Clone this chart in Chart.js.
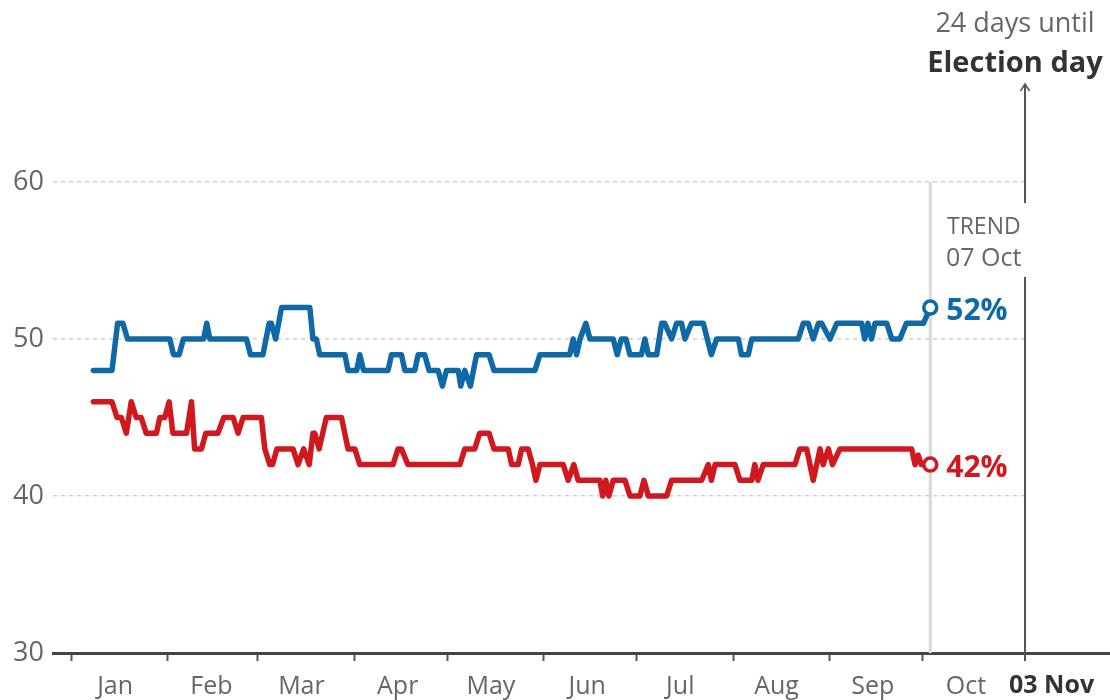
<!DOCTYPE html>
<html>
<head>
<meta charset="utf-8">
<title>Poll tracker</title>
<script src="https://cdn.jsdelivr.net/npm/chart.js@4/dist/chart.umd.min.js"></script>
<style>
    body { margin: 0; background: #fff; }
    canvas { display: block; }
</style>
</head>
<body>
<canvas id="pollChart" width="1110" height="700"></canvas>
<script>
// Day numbers count from 1 Jan (day 0). Each pair is [day, poll %]
const blueTrend = [
    [7, 48], [13, 48], [14.8, 51], [16.5, 51], [18, 50], [31.6, 50], [32.8, 49], [34.6, 49],
    [36, 50], [42.5, 50], [43.5, 51], [44.5, 50], [56.3, 50], [57.6, 49], [61.6, 49], [63.6, 51],
    [64.3, 51], [65.7, 50], [67.6, 52], [76.7, 52], [77.7, 50], [78.8, 50], [79.9, 49], [88, 49],
    [89, 48], [91.8, 48], [92.8, 49], [94, 48], [101.9, 48], [103, 49], [106.2, 49], [107.3, 48],
    [110.5, 48], [111.6, 49], [113.7, 49], [115.1, 48], [118, 48], [119.4, 47], [120.7, 48], [124.5, 48],
    [125.3, 47], [126.6, 48], [128.4, 47], [130.4, 49], [134.4, 49], [136, 48], [149.2, 48], [150.8, 49],
    [160.4, 49], [161.5, 50], [162.6, 49], [163.7, 50], [165.6, 51], [166.9, 50], [174.4, 50], [175.7, 49],
    [177, 50], [178.5, 50], [179.8, 49], [183.5, 49], [184.6, 50], [185.7, 49], [188.4, 49], [190, 51],
    [191, 51], [193.2, 50], [194.8, 51], [196.4, 51], [197.5, 50], [199.6, 51], [203.4, 51], [206, 49],
    [207.7, 50], [214.7, 50], [215.7, 49], [217.9, 49], [219, 50], [234, 50], [235.6, 51], [237.2, 51],
    [238.8, 50], [240.5, 51], [241.5, 51], [244.2, 50], [246.4, 51], [254.4, 51], [255.4, 50], [256.4, 51],
    [257.6, 50], [258.7, 51], [262.5, 51], [264.1, 50], [266.7, 50], [268.8, 51], [274.3, 51], [276.5, 52]
];

const redTrend = [
    [7, 46], [13, 46], [14.6, 45], [16, 45], [17.6, 44], [19.2, 46], [20.8, 45], [22.4, 45],
    [24, 44], [27.3, 44], [28.4, 45], [30, 45], [31.4, 46], [32.6, 44], [37, 44], [38.6, 46],
    [39.6, 43], [41.8, 43], [43.2, 44], [47.1, 44], [49, 45], [52, 45], [53.6, 44], [55.2, 45],
    [61.1, 45], [62.2, 43], [63.8, 42], [64.7, 42], [66.1, 43], [71.3, 43], [72.9, 42], [74.7, 43],
    [76.5, 42], [77.7, 44], [78.3, 44], [79.7, 43], [82, 45], [86.9, 45], [89, 43], [91.2, 43],
    [92.8, 42], [103.5, 42], [105.1, 43], [106.2, 43], [108.3, 42], [125, 42], [126.6, 43], [129.8, 43],
    [131.4, 44], [134.4, 44], [136, 43], [140.6, 43], [141.7, 42], [143.8, 42], [144.9, 43], [147, 43],
    [148.4, 42], [149.5, 41], [150.8, 42], [158.3, 42], [159.9, 41], [161.7, 42], [163.1, 41], [170.1, 41],
    [171, 40], [172, 41], [173, 40], [174.4, 41], [178.2, 41], [179.8, 40], [183, 40], [184.3, 41],
    [185.7, 40], [191.6, 40], [193.2, 41], [202.9, 41], [205, 42], [206, 41], [207.2, 42], [213.6, 42],
    [215.2, 41], [219, 41], [220, 42], [221, 41], [222.7, 42], [232.9, 42], [234.5, 43], [236.7, 43],
    [238.8, 41], [241, 43], [242, 42], [243.7, 43], [245, 42], [247.4, 43], [270.5, 43], [271.6, 42],
    [272.6, 42.6], [273.6, 42], [276.5, 42]
];

const monthNames = ['Jan', 'Feb', 'Mar', 'Apr', 'May', 'Jun', 'Jul', 'Aug', 'Sep', 'Oct'];
const monthStarts = [0, 31, 60, 91, 121, 152, 182, 213, 244, 274];
const monthMids = [14, 45, 74, 105, 135, 166, 196, 227, 258, 288];
const yTicks = [30, 40, 50, 60];

const electionDay = 307;      // 03 Nov
const electionLabel = '03 Nov';
const trendLabel = ['TREND', '07 Oct'];
const countdownLabel = ['24 days until', 'Election day'];

const BLUE = '#0f69a6';
const RED = '#d0191f';
const GREY_TEXT = '#666666';
const FONT = '"Open Sans", "Noto Sans", sans-serif';

function lastPoint(series) {
    return series[series.length - 1];
}

function makeDataset(series, color) {
    const n = series.length;
    return {
        data: series.map(p => ({ x: p[0], y: p[1] })),
        borderColor: color,
        borderWidth: 5.5,
        borderJoinStyle: 'round',
        borderCapStyle: 'round',
        tension: 0,
        // only the final point gets the open circle marker
        pointRadius: series.map((p, i) => i === n - 1 ? 6.5 : 0),
        pointBorderWidth: 3.5,
        pointBorderColor: color,
        pointBackgroundColor: '#ffffff',
        clip: false
    };
}

// Extra drawing: trend marker, election day line, end labels, axis extension
const annotations = {
    id: 'annotations',
    beforeDatasetsDraw(chart) {
        const ctx = chart.ctx;
        const x = chart.scales.x.getPixelForValue(lastPoint(blueTrend)[0]);
        ctx.save();
        ctx.strokeStyle = '#d8d8d8';
        ctx.lineWidth = 3;
        ctx.beginPath();
        ctx.moveTo(x, chart.chartArea.top);
        ctx.lineTo(x, chart.chartArea.bottom);
        ctx.stroke();
        ctx.restore();
    },
    afterDraw(chart) {
        const ctx = chart.ctx;
        const xs = chart.scales.x;
        const ys = chart.scales.y;
        const area = chart.chartArea;
        const ex = xs.getPixelForValue(electionDay);
        const axisY = Math.round(area.bottom - 1.5) + 1.5;

        ctx.save();

        // x axis line continues past election day
        ctx.strokeStyle = '#444';
        ctx.lineWidth = 3;
        ctx.beginPath();
        ctx.moveTo(area.right - 2, axisY);
        ctx.lineTo(chart.width, axisY);
        ctx.stroke();

        // election day line with a gap for the trend text
        ctx.strokeStyle = '#555';
        ctx.lineWidth = 2;
        ctx.beginPath();
        ctx.moveTo(ex, 85);
        ctx.lineTo(ex, 203);
        ctx.moveTo(ex, 277);
        ctx.lineTo(ex, area.bottom + 8);
        ctx.stroke();

        // arrow head
        ctx.lineWidth = 1.5;
        ctx.beginPath();
        ctx.moveTo(ex - 4.5, 91);
        ctx.lineTo(ex, 84);
        ctx.lineTo(ex + 4.5, 91);
        ctx.stroke();

        // countdown text
        ctx.textAlign = 'center';
        ctx.textBaseline = 'middle';
        ctx.fillStyle = GREY_TEXT;
        ctx.font = '27px ' + FONT;
        ctx.fillText(countdownLabel[0], 1015, 24);
        ctx.fillStyle = '#333';
        ctx.font = 'bold 29px ' + FONT;
        ctx.fillText(countdownLabel[1], 1015, 64);

        // trend text
        ctx.textAlign = 'left';
        ctx.fillStyle = GREY_TEXT;
        ctx.font = '23px ' + FONT;
        ctx.fillText(trendLabel[0], 947, 227);
        ctx.font = '25px ' + FONT;
        ctx.fillText(trendLabel[1], 946, 259);

        // election date label on the axis
        ctx.fillStyle = '#333';
        ctx.font = 'bold 25px ' + FONT;
        ctx.fillText(electionLabel, 1009, 686);

        // end value labels
        ctx.font = 'bold 30px ' + FONT;
        [[blueTrend, BLUE], [redTrend, RED]].forEach(([series, color]) => {
            const p = lastPoint(series);
            ctx.fillStyle = color;
            ctx.fillText(p[1] + '%', xs.getPixelForValue(p[0]) + 16, ys.getPixelForValue(p[1]) + 4);
        });

        ctx.restore();
    }
};

document.addEventListener('DOMContentLoaded', function() {
    const ctx = document.getElementById('pollChart').getContext('2d');

    new Chart(ctx, {
        type: 'line',
        data: {
            datasets: [makeDataset(blueTrend, BLUE), makeDataset(redTrend, RED)]
        },
        options: {
            responsive: false,
            animation: false,
            layout: {
                padding: { top: 182, right: 85, left: 0, bottom: 0 }
            },
            plugins: {
                legend: { display: false },
                tooltip: { enabled: false }
            },
            scales: {
                x: {
                    type: 'linear',
                    min: -6,
                    max: electionDay,
                    afterBuildTicks: scale => {
                        // tick marks on month starts, labels in the middle of each month
                        const values = monthStarts.concat(monthMids).sort((a, b) => a - b);
                        scale.ticks = values.map(v => ({ value: v }));
                    },
                    afterFit: scale => { scale.height = 47; },
                    ticks: {
                        autoSkip: false,
                        maxRotation: 0,
                        padding: 11,
                        color: GREY_TEXT,
                        font: { family: FONT, size: 25 },
                        callback: value => {
                            const i = monthMids.indexOf(value);
                            return i >= 0 ? monthNames[i] : '';
                        }
                    },
                    grid: {
                        drawOnChartArea: false,
                        drawTicks: true,
                        tickLength: 8,
                        tickWidth: 2,
                        tickColor: c => (c.tick && monthStarts.includes(c.tick.value)) ? '#555' : 'rgba(0,0,0,0)'
                    },
                    border: { color: '#444', width: 3 }
                },
                y: {
                    min: 30,
                    max: 60,
                    afterBuildTicks: scale => {
                        scale.ticks = yTicks.map(v => ({ value: v }));
                    },
                    afterFit: scale => { scale.width = 53; },
                    ticks: {
                        padding: 9,
                        color: GREY_TEXT,
                        font: { family: FONT, size: 27 }
                    },
                    grid: {
                        drawTicks: false,
                        lineWidth: 1.5,
                        color: c => (c.tick && c.tick.value === 30) ? 'rgba(0,0,0,0)' : '#cfcfcf'
                    },
                    border: { display: false, dash: [4, 4] }
                }
            }
        },
        plugins: [annotations]
    });
});
</script>
</body>
</html>
